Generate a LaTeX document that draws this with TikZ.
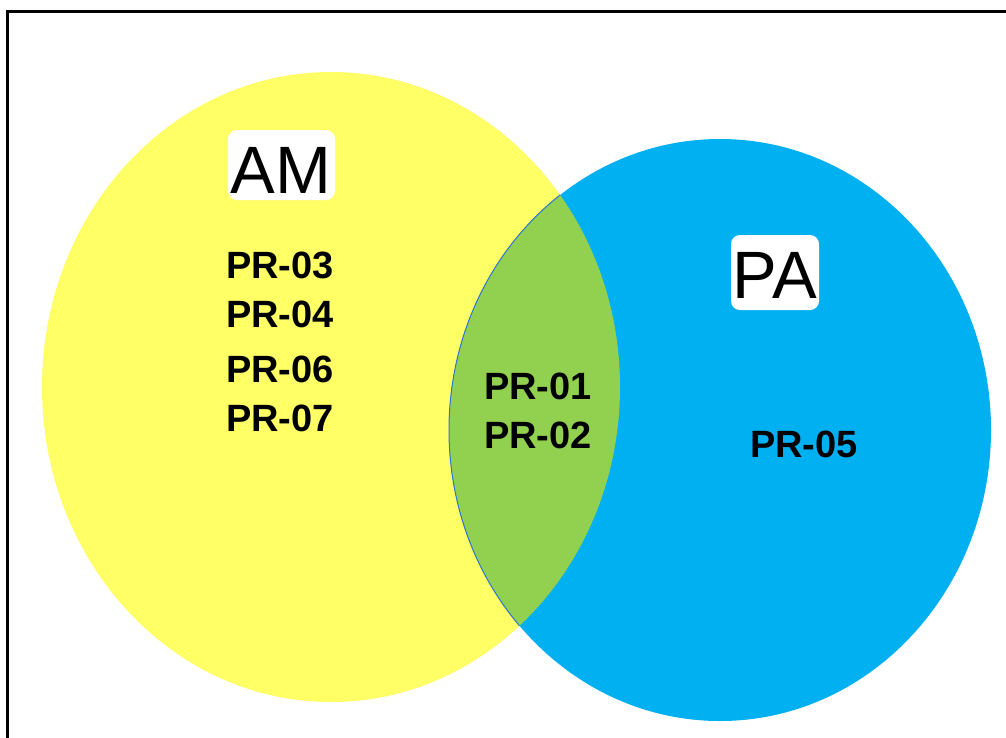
\documentclass[tikz,border=0pt]{standalone}
\usepackage{fontspec}
\setmainfont{Liberation Sans}
\definecolor{amyellow}{HTML}{FFFF66}
\definecolor{pablue}{HTML}{00B0F0}
\definecolor{lensgreen}{HTML}{92D050}
\definecolor{edgeblue}{HTML}{2E75D6}
\begin{document}
\begin{tikzpicture}[x=1pt,y=-1pt,
  pr/.style={anchor=base west,inner sep=0pt,font=\fontsize{38}{44}\selectfont\bfseries},
  big/.style={anchor=base,inner sep=0pt,font=\fontsize{67}{75}\selectfont},
  labelbox/.style={fill=white,rounded corners=9pt,draw=none}]
\useasboundingbox (0,0) rectangle (1006,737);
\fill[white] (0,0) rectangle (1006,737);
\draw[line width=3pt] (7,1000) -- (7,11) -- (1100,11);
% ellipses
\fill[amyellow] (331,387) ellipse [x radius=289, y radius=315];
\fill[pablue] (720,430) ellipse [x radius=271, y radius=291];
\begin{scope}
  \clip (331,387) ellipse [x radius=289, y radius=315];
  \fill[lensgreen] (720,430) ellipse [x radius=271, y radius=291];
  \draw[edgeblue,line width=1pt] (720,430) ellipse [x radius=271, y radius=291];
\end{scope}
% labels
\fill[labelbox] (228,130) rectangle (335,200);
\node[big] (am) at (281,193) {AM};
\fill[labelbox] (731,235) rectangle (819,310);
\node[big] (pa) at (775,298) {PA};
\node[pr] (p3) at (226,278) {PR-03};
\node[pr] (p4) at (226,327) {PR-04};
\node[pr] (p6) at (226,382) {PR-06};
\node[pr] (p7) at (226,431) {PR-07};
\node[pr] (p1) at (484,399) {PR-01};
\node[pr] (p2) at (484,448) {PR-02};
\node[pr] (p5) at (750,457) {PR-05};
\end{tikzpicture}
\end{document}
